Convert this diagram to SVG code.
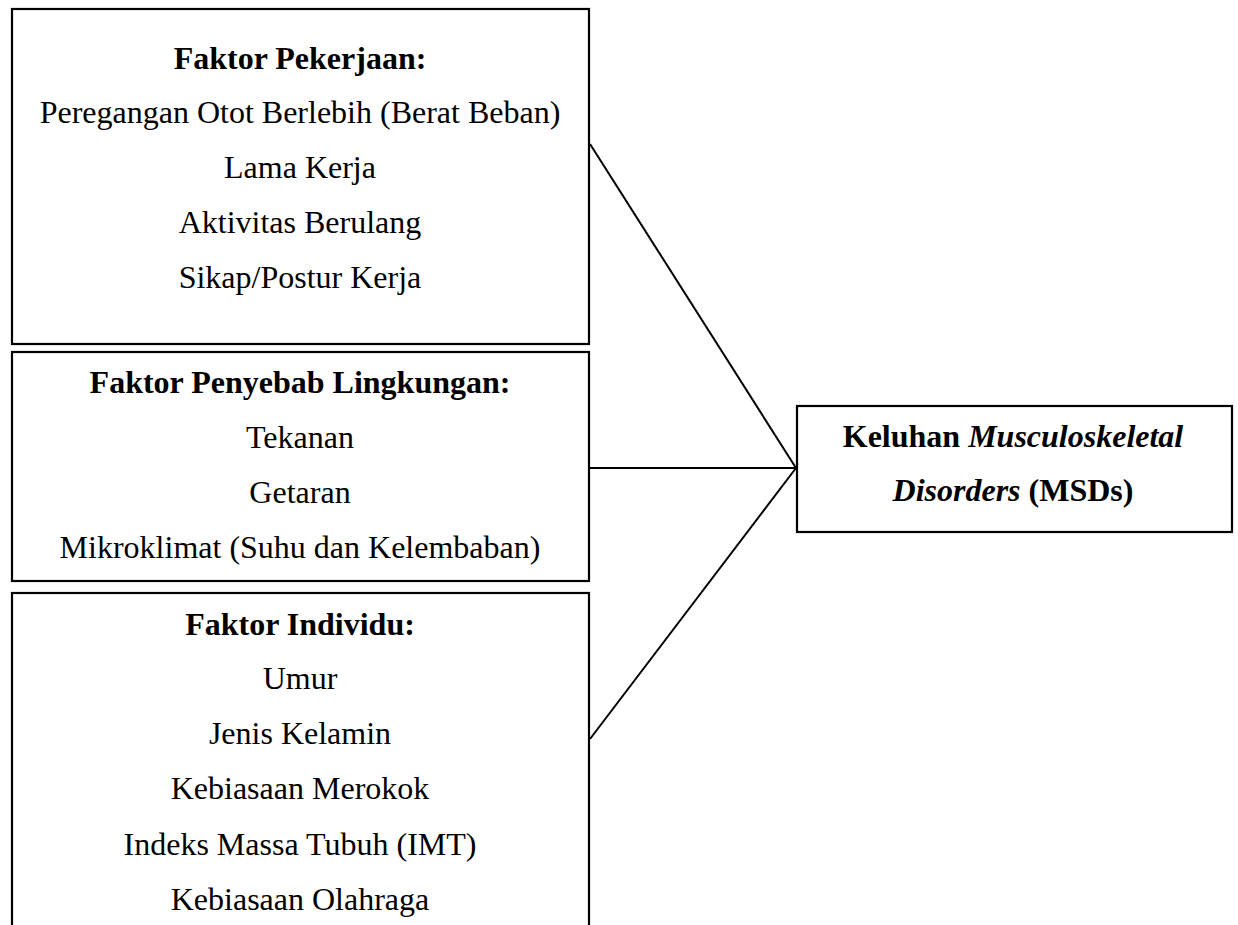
<svg xmlns="http://www.w3.org/2000/svg" width="1238" height="925" viewBox="0 0 1238 925">
<style>
.box{fill:#fff;stroke:#000;stroke-width:2.2}
.t{font-family:"Liberation Serif","Times New Roman",serif;font-size:32px;fill:#000;text-anchor:middle}
.b{font-weight:bold}
.i{font-style:italic}
.c{stroke:#000;stroke-width:2;fill:none}
</style>
<rect width="1238" height="925" fill="#fff"/>
<g id="connectors">
<line class="c" x1="590" y1="144" x2="796" y2="468"/>
<line class="c" x1="590" y1="468" x2="796" y2="468"/>
<line class="c" x1="590" y1="739" x2="796" y2="468"/>
</g>
<g id="faktor-pekerjaan">
<rect class="box" x="12" y="9" width="577" height="335"/>
<text class="t b" x="300" y="69">Faktor Pekerjaan:</text>
<text class="t" x="300" y="123">Peregangan Otot Berlebih (Berat Beban)</text>
<text class="t" x="300" y="178">Lama Kerja</text>
<text class="t" x="300" y="233">Aktivitas Berulang</text>
<text class="t" x="300" y="288">Sikap/Postur Kerja</text>
</g>
<g id="faktor-lingkungan">
<rect class="box" x="12" y="352" width="577" height="229"/>
<text class="t b" x="300" y="393">Faktor Penyebab Lingkungan:</text>
<text class="t" x="300" y="448">Tekanan</text>
<text class="t" x="300" y="503">Getaran</text>
<text class="t" x="300" y="558">Mikroklimat (Suhu dan Kelembaban)</text>
</g>
<g id="faktor-individu">
<rect class="box" x="12" y="593" width="577" height="345"/>
<text class="t b" x="300" y="635">Faktor Individu:</text>
<text class="t" x="300" y="689">Umur</text>
<text class="t" x="300" y="744">Jenis Kelamin</text>
<text class="t" x="300" y="799">Kebiasaan Merokok</text>
<text class="t" x="300" y="855">Indeks Massa Tubuh (IMT)</text>
<text class="t" x="300" y="910">Kebiasaan Olahraga</text>
</g>
<g id="keluhan-msds">
<rect class="box" x="797" y="406" width="435" height="126"/>
<text class="t b" x="1013" y="447">Keluhan <tspan class="i">Musculoskeletal</tspan></text>
<text class="t b" x="1013" y="501"><tspan class="i">Disorders</tspan> (MSDs)</text>
</g>
</svg>
